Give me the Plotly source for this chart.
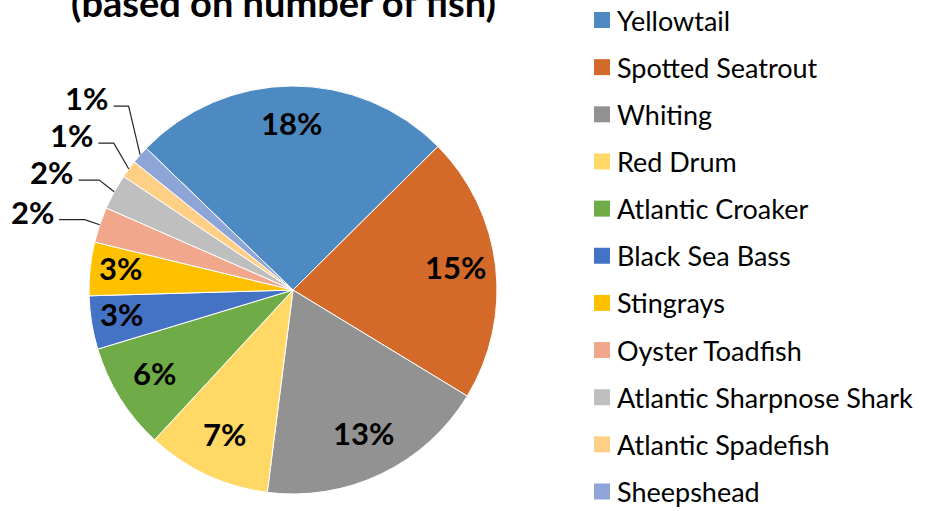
import math
import plotly.graph_objects as go

species = ["Yellowtail", "Spotted Seatrout", "Whiting", "Red Drum", "Atlantic Croaker",
           "Black Sea Bass", "Stingrays", "Oyster Toadfish", "Atlantic Sharpnose Shark",
           "Atlantic Spadefish", "Sheepshead"]
pct = [18, 15, 13, 7, 6, 3, 3, 2, 2, 1, 1]
colors = ["#4E8AC2", "#D36A2A", "#929292", "#FFD866", "#6FAB46", "#4472C4",
          "#FFC000", "#F0A78B", "#BFBFBF", "#FFCF85", "#8EA5D8"]
title_text = "(based on number of fish)"

W, H = 937, 511
CX, CY, R = 293, 290, 204
START = 136  # math degrees where first slice begins
FONT = "Lato, 'Open Sans', sans-serif"

def px(x):
    return x / W

def py(y):
    return 1 - y / H

fig = go.Figure(go.Pie(
    labels=species, values=pct, sort=False, direction="clockwise",
    rotation=90 - START, textinfo="none", showlegend=False,
    marker=dict(colors=colors, line=dict(color="white", width=1)),
    domain=dict(x=[px(CX - R), px(CX + R)], y=[py(CY + R), py(CY - R)]),
))

annotations = []
shapes = []
total = sum(pct)
cum = 0
small = []
for i, v in enumerate(pct):
    span = v / total * 360
    mid = math.radians(START - cum - span / 2)
    cum += span
    if v >= 3:
        r = (0.8 if v >= 6 else 0.85) * R
        annotations.append(dict(
            x=px(CX + r * math.cos(mid)), y=py(CY - r * math.sin(mid) - 4),
            xref="paper", yref="paper", xanchor="center", yanchor="middle",
            text=f"<b>{v}%</b>", showarrow=False,
            font=dict(family=FONT, size=31, color="black")))
    else:
        small.append((i, v, mid))

# outside labels for small slices, stacked upward to avoid overlap
prev_y = None
for i, v, mid in small:
    ex, ey = CX + R * math.cos(mid), CY - R * math.sin(mid)
    lx = CX + 1.35 * R * math.cos(mid)
    ly = CY - 1.2 * R * math.sin(mid)
    if prev_y is not None and ly > prev_y - 37:
        ly = prev_y - 37
    prev_y = ly
    annotations.append(dict(
        x=px(lx), y=py(ly), xref="paper", yref="paper", xanchor="center",
        yanchor="middle", text=f"<b>{v}%</b>",
        showarrow=False, font=dict(family=FONT, size=31, color="black")))
    right = lx + 27
    elbow = max(right + 15, ex - 15)
    path = f"M {px(right)} {py(ly + 8)} L {px(elbow)} {py(ly + 8)} L {px(ex)} {py(ey)}"
    shapes.append(dict(type="path", path=path, xref="paper", yref="paper",
                       line=dict(color="#262626", width=1.2)))

# legend
LX, LY0, LDY = 602, 20, 47.15
for i, name in enumerate(species):
    yc = LY0 + i * LDY
    shapes.append(dict(type="rect", xref="paper", yref="paper",
                       x0=px(LX - 8), x1=px(LX + 8), y0=py(yc + 8), y1=py(yc - 8),
                       fillcolor=colors[i], line=dict(width=0)))
    annotations.append(dict(x=px(615), y=py(yc), xref="paper", yref="paper",
                            xanchor="left", yanchor="middle", text=name, showarrow=False,
                            font=dict(family=FONT, size=27, color="black")))

annotations.append(dict(x=px(283), y=py(27), xref="paper", yref="paper",
                        xanchor="center", yanchor="bottom", text=f"<b>{title_text}</b>",
                        showarrow=False, font=dict(family=FONT, size=38, color="black")))

fig.update_layout(width=W, height=H, margin=dict(l=0, r=0, t=0, b=0),
                  paper_bgcolor="white", plot_bgcolor="white",
                  annotations=annotations, shapes=shapes)
fig.write_html("out.html", config={"displayModeBar": False},
               post_script="document.body.style.margin='0px';")
